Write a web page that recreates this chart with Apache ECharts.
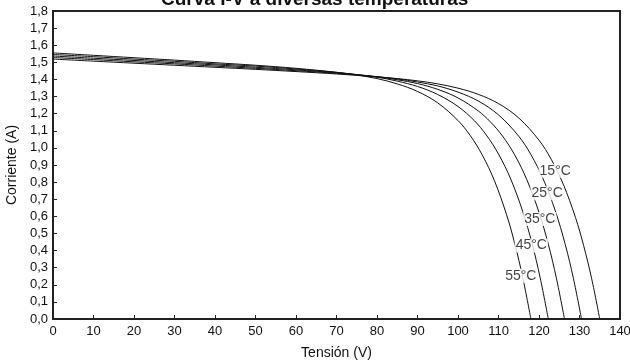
<!DOCTYPE html>
<html>
<head>
<meta charset="utf-8">
<script src="https://cdn.jsdelivr.net/npm/echarts@6/dist/echarts.min.js"></script>
<style>html,body{margin:0;padding:0;background:#fff}#c{width:630px;height:361px}</style>
</head>
<body>
<div id="c"></div>
<script>
const titleText = 'Curva I-V a diversas temperaturas';
const xName = 'Tensión (V)';
const yName = 'Corriente (A)';

const v15 = [0,10,20,30,40,50,60,70,80,85,90,95,100,105,110,115,120,123,126,129,131,133,135];
const i15 = [1.519,1.507,1.495,1.483,1.471,1.459,1.446,1.432,1.415,1.405,1.392,1.374,1.349,1.313,1.259,1.175,1.045,0.934,0.787,0.594,0.431,0.236,0];

const v25 = [0,10,20,30,40,50,60,70,80,85,90,95,100,105,110,115,118,121,124,126.5,128.5,130.5];
const i25 = [1.528,1.516,1.503,1.491,1.478,1.465,1.451,1.436,1.416,1.403,1.385,1.362,1.326,1.274,1.193,1.068,0.961,0.820,0.634,0.434,0.237,0];

const v35 = [0,10,20,30,40,50,60,70,80,85,90,95,100,105,108,111,114,117,120,122.3,124.3,126.3];
const i35 = [1.537,1.524,1.511,1.498,1.485,1.471,1.456,1.439,1.416,1.398,1.376,1.342,1.292,1.216,1.152,1.069,0.959,0.814,0.623,0.437,0.238,0];

const v45 = [0,10,20,30,40,50,60,70,80,85,90,95,100,104,107,110,113,116,118.3,120.3,122.3];
const i45 = [1.546,1.533,1.519,1.506,1.491,1.478,1.461,1.441,1.413,1.390,1.359,1.312,1.242,1.160,1.075,0.964,0.819,0.627,0.440,0.240,0];

const v55 = [0,10,20,30,40,50,60,70,75,80,85,90,95,100,103,106,109,112,114,116,118];
const i55 = [1.555,1.541,1.527,1.513,1.498,1.483,1.465,1.442,1.426,1.405,1.374,1.330,1.263,1.160,1.073,0.958,0.808,0.609,0.442,0.241,0];

const labelText = ['15°C','25°C','35°C','45°C','55°C'];
const labelV = [124.0,122.0,120.2,118.1,115.5];
const labelI = [0.866,0.735,0.585,0.429,0.253];

const curves = [[v15,i15],[v25,i25],[v35,i35],[v45,i45],[v55,i55]];

const chart = echarts.init(document.getElementById('c'), null, {renderer:'canvas'});
const font = 'Liberation Sans, Arial, Helvetica, sans-serif';

const series = curves.map((c, k) => ({
  type: 'line',
  name: labelText[k],
  data: c[0].map((v, j) => [v, c[1][j]]),
  showSymbol: false,
  smooth: 0.35,
  lineStyle: {color: '#111', width: 1},
  z: 2,
  silent: true
}));

series.push({
  type: 'scatter',
  data: labelV.map((v, k) => ({value: [v, labelI[k]], label: {formatter: labelText[k]}})),
  symbolSize: 0,
  z: 5,
  label: {
    show: true,
    position: 'inside',
    color: '#111',
    fontFamily: font,
    fontSize: 14,
    backgroundColor: '#fff',
    padding: [0, 1]
  },
  silent: true
});

chart.setOption({
  animation: false,
  backgroundColor: '#fff',
  title: {
    text: titleText,
    left: 156,
    top: -15,
    textStyle: {fontFamily: font, fontSize: 19, fontWeight: 'bold', color: '#111'}
  },
  grid: {left: 53, right: 10, top: 11, bottom: 42, outerBoundsMode: 'none', containLabel: false,
    show: true, borderColor: '#222', borderWidth: 2, backgroundColor: 'transparent'},
  xAxis: {
    type: 'value', min: 0, max: 140, interval: 10,
    name: xName, nameLocation: 'middle', nameGap: 27,
    nameTextStyle: {fontFamily: font, fontSize: 14, color: '#111'},
    axisLine: {show: true, lineStyle: {color: '#222', width: 2}},
    axisTick: {show: true, inside: true, length: 4, lineStyle: {color: '#222', width: 1}},
    axisLabel: {fontFamily: font, fontSize: 13, color: '#111', margin: 6},
    splitLine: {show: false}
  },
  yAxis: {
    type: 'value', min: 0, max: 1.8, interval: 0.1,
    name: yName, nameLocation: 'middle', nameGap: 28,
    nameTextStyle: {fontFamily: font, fontSize: 14, color: '#111'},
    axisLine: {show: true, lineStyle: {color: '#222', width: 2}},
    axisTick: {show: true, inside: true, length: 4, lineStyle: {color: '#222', width: 1}},
    axisLabel: {fontFamily: font, fontSize: 13, color: '#111', margin: 5,
      formatter: v => v.toFixed(1).replace('.', ',')},
    splitLine: {show: false}
  },
  series: series
});
</script>
</body>
</html>
